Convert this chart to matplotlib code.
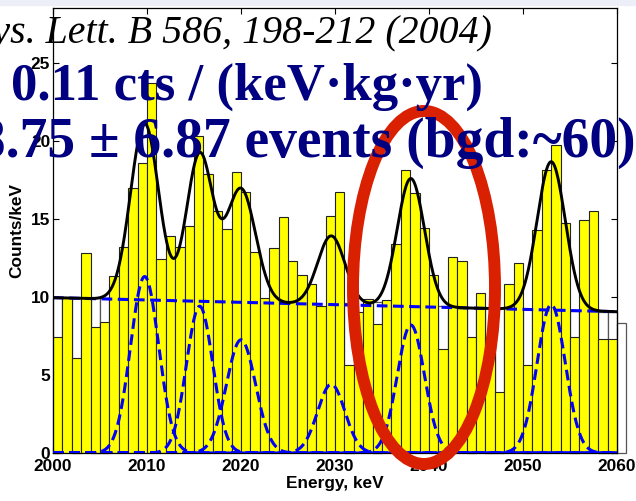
import numpy as np
import matplotlib
matplotlib.use('Agg')
from matplotlib import pyplot as plt
from matplotlib.patches import Ellipse, Rectangle

# counts per 1 keV bin; bin i covers [2000+i, 2001+i)
bin_start = np.arange(2000, 2060)
counts = [7.4, 9.95, 6.1, 12.8, 8.1, 8.4, 11.35, 13.2, 17.0, 18.6,
          23.7, 12.4, 13.9, 13.2, 14.55, 20.3, 17.9, 15.5, 14.35, 18.0,
          16.7, 12.9, 9.9, 13.1, 15.1, 12.3, 11.4, 10.8, 9.4, 15.2,
          16.7, 5.65, 9.0, 9.85, 8.25, 9.8, 13.4, 18.1, 16.65, 14.4,
          11.4, 6.65, 12.55, 12.3, 7.4, 10.25, 7.45, 3.9, 10.8, 12.2,
          5.65, 14.3, 18.1, 19.7, 14.7, 7.45, 14.9, 15.5, 7.3, 7.3]

# open histogram, only where it rises above the yellow one
open_bins = [2000, 2002, 2004, 2005, 2031, 2034, 2041, 2044, 2046, 2047,
             2050, 2055, 2058, 2059, 2060]
open_counts = [9.9, 9.9, 9.9, 9.9, 9.6, 9.7, 9.4, 9.3, 9.3, 9.3,
               9.2, 9.1, 9.0, 9.0, 8.3]

# fit: linear background + gaussian lines
bg_start, bg_end = 9.95, 9.05
peak_energy = [2009.75, 2015.6, 2020.0, 2029.6, 2038.07, 2053.0]
peak_height = [11.3, 9.4, 7.25, 4.4, 8.2, 9.5]
peak_sigma = [1.5, 1.4, 1.55, 1.45, 1.45, 1.5]

x_ticks = [2000, 2010, 2020, 2030, 2040, 2050, 2060]
y_ticks = [0, 5, 10, 15, 20, 25]

W, H = 636, 501
plt.rcParams['font.family'] = ['Liberation Sans', 'DejaVu Sans']
serif = ['Liberation Serif', 'DejaVu Serif']

fig = plt.figure(figsize=(W / 100, H / 100), dpi=100)
fig.patches.append(Rectangle((0, 1 - 5 / H), 1, 5 / H, transform=fig.transFigure,
                             color='#eceef8', zorder=0))
ax = fig.add_axes([53 / W, 48 / H, 564 / W, 445 / H])

ax.bar(open_bins, open_counts, width=1, align='edge', color='white',
       edgecolor='#555555', linewidth=0.9, clip_on=False, zorder=1)
ax.bar(bin_start, counts, width=1, align='edge', color='#ffff00',
       edgecolor='#222222', linewidth=0.8, zorder=2)

e = np.linspace(2000, 2060, 1201)
bg = bg_start + (bg_end - bg_start) * (e - 2000) / 60
lines = [h * np.exp(-0.5 * ((e - m) / s) ** 2)
         for m, h, s in zip(peak_energy, peak_height, peak_sigma)]
fit = bg + np.sum(lines, axis=0)

ax.plot(e, fit, color='black', lw=2.1, zorder=4)
ax.plot(e, bg, color='#0000ff', lw=2.2, ls=(0, (3.5, 1.8)), zorder=3)
for g in lines:
    ax.plot(e, g, color='#0000ff', lw=2.2, ls=(0, (3.5, 1.8)), zorder=3)

ax.set_xlim(2000, 2060)
ax.set_ylim(0, 28.5)
ax.set_xticks(x_ticks)
ax.set_yticks(y_ticks)
ax.tick_params(direction='in', top=True, right=True, length=4.3, width=0.8,
               labelsize=12.4)
ax.tick_params(axis='x', pad=4)
ax.tick_params(axis='y', pad=2)
for lbl in ax.get_xticklabels() + ax.get_yticklabels():
    lbl.set_fontweight('bold')
ax.set_xlabel('Energy, keV', fontsize=12.4, fontweight='bold', labelpad=2)
ax.set_ylabel('Counts/keV', fontsize=12.4, fontweight='bold', labelpad=5)
for sp in ax.spines.values():
    sp.set_linewidth(0.9)

# highlight around the 2039 keV region
fig.add_artist(Ellipse((424 / W, 1 - 287.5 / H), 142 / W, 353 / H,
                       transform=fig.transFigure, fill=False,
                       edgecolor='#d92000', lw=8.6, zorder=2))

fig.text(-52 / W, 1 - 43 / H, 'Phys. Lett. B 586, 198-212 (2004)',
         fontsize=28.7, style='italic', family=serif,
         va='baseline', ha='left', color='black', zorder=3)
fig.text(11 / W, 1 - 100 / H, '0.11 cts / (keV\u00b7kg\u00b7yr)',
         fontsize=38, fontweight='bold', family=serif,
         va='baseline', ha='left', color='#000080', zorder=3)
fig.text(-50 / W, 1 - 157 / H, '28.75 \u00b1 6.87 events (bgd:~60)',
         fontsize=40, fontweight='bold', family=serif,
         va='baseline', ha='left', color='#000080', zorder=3)

plt.savefig('out.png', dpi=100)
plt.close()
